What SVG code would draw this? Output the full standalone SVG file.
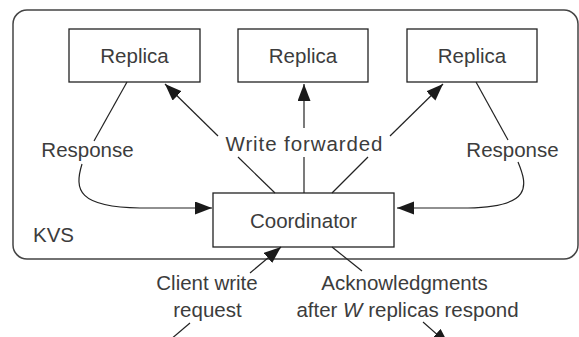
<svg xmlns="http://www.w3.org/2000/svg" width="579" height="337" viewBox="0 0 579 337">
<style>
  .box { fill: #fff; stroke: #222; stroke-width: 1.3; }
  .outer { fill: none; stroke: #444; stroke-width: 1.5; }
  .lbl { font-family: "Liberation Sans", Arial, sans-serif; font-size: 20.5px; fill: #3c3c3c; text-anchor: middle; }
  .ln { fill: none; stroke: #222; stroke-width: 1.2; }
  .arr { marker-end: url(#ah); }
</style>
<defs>
  <marker id="ah" markerUnits="userSpaceOnUse" markerWidth="18" markerHeight="14" refX="17" refY="6.5" orient="auto">
    <path d="M0,0 L17,6.5 L0,13 Z" fill="#1a1a1a"/>
  </marker>
</defs>
<g id="kvs">
  <rect class="outer" x="13" y="10" width="565" height="249" rx="14"/>
  <text class="lbl" x="33" y="242" style="text-anchor:start">KVS</text>
</g>
<g id="replica-left">
  <rect class="box" x="69" y="29" width="131" height="53"/>
  <text class="lbl" x="134.5" y="63">Replica</text>
</g>
<g id="replica-middle">
  <rect class="box" x="238" y="29" width="130" height="53"/>
  <text class="lbl" x="303" y="63">Replica</text>
</g>
<g id="replica-right">
  <rect class="box" x="407" y="29" width="130" height="53"/>
  <text class="lbl" x="472" y="63">Replica</text>
</g>
<g id="coordinator">
  <rect class="box" x="213" y="193" width="181" height="54"/>
  <text class="lbl" x="303.5" y="228">Coordinator</text>
</g>
<g id="connectors">
  <path class="ln" d="M127,82 L94,141"/>
  <path class="ln arr" d="M82,164 C74,190 78,207 140,208 L212,208"/>
  <path class="ln arr" d="M218,136 L165,84"/>
  <path class="ln" d="M238,157 L275,193"/>
  <path class="ln arr" d="M304,128 L304,84"/>
  <path class="ln" d="M304,157 L304,193"/>
  <path class="ln arr" d="M390,136 L443,84"/>
  <path class="ln" d="M368,157 L332,193"/>
  <path class="ln" d="M476,82 L508,140"/>
  <path class="ln arr" d="M518,162 C528,186 532,207 468,208 L397,208"/>
  <path class="ln arr" d="M250,273 L281,247"/>
  <path class="ln" d="M190,323 L170,340"/>
  <path class="ln" d="M332,247 L362,271"/>
  <path class="ln arr" d="M423,322 L449,345"/>
</g>
<g id="labels">
  <text class="lbl" x="87.5" y="157">Response</text>
  <text class="lbl" x="304" y="151" textLength="157" lengthAdjust="spacing">Write forwarded</text>
  <text class="lbl" x="512.5" y="157">Response</text>
  <text class="lbl" x="207" y="290">Client write</text>
  <text class="lbl" x="207.5" y="317">request</text>
  <text class="lbl" x="404.5" y="290">Acknowledgments</text>
  <text class="lbl" x="407.5" y="317">after <tspan font-style="italic">W</tspan> replicas respond</text>
</g>
</svg>
